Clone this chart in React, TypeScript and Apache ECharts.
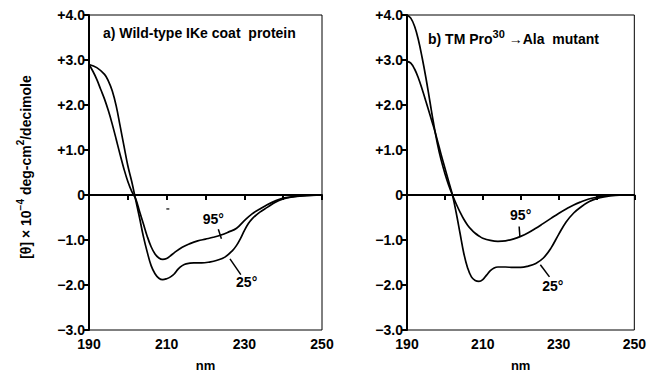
import React, { useEffect, useRef } from "react";
import * as echarts from "echarts";

// ---- data ----
const xTickLabels = [190, 210, 230, 250];

// Panel a) Wild-type IKe coat protein
const wlA25 = [190, 192, 194, 195, 196, 197, 198, 199, 200, 201, 202, 203, 204, 205, 206, 207, 208, 209, 210, 211, 212, 213, 214, 215, 217, 219, 221, 223, 225, 227, 228, 229, 230, 231, 232, 234, 236, 238, 240, 242, 245, 250];
const valA25 = [2.9, 2.83, 2.68, 2.53, 2.31, 1.98, 1.54, 1.09, 0.65, 0.3, -0.1, -0.5, -0.92, -1.27, -1.57, -1.75, -1.85, -1.88, -1.86, -1.82, -1.75, -1.64, -1.57, -1.53, -1.51, -1.51, -1.49, -1.45, -1.38, -1.23, -1.12, -0.97, -0.79, -0.64, -0.53, -0.38, -0.27, -0.16, -0.09, -0.05, -0.02, 0];
const wlA95 = [190, 191, 192, 193, 194, 195, 196, 197, 198, 199, 200, 201, 202, 203, 204, 205, 206, 207, 208, 209, 210, 211, 212, 214, 216, 218, 220, 222, 224, 226, 228, 230, 232, 234, 236, 238, 240, 243, 246, 250];
const valA95 = [2.9, 2.75, 2.57, 2.35, 2.13, 1.87, 1.57, 1.24, 0.9, 0.58, 0.3, 0.08, -0.08, -0.36, -0.64, -0.92, -1.15, -1.31, -1.4, -1.43, -1.41, -1.35, -1.28, -1.16, -1.08, -1.02, -0.98, -0.94, -0.89, -0.82, -0.74, -0.57, -0.42, -0.31, -0.21, -0.13, -0.07, -0.03, -0.01, 0];

// Panel b) TM Pro30 -> Ala mutant
const wlB25 = [190, 191, 192, 193, 194, 195, 196, 197, 198, 199, 200, 201, 202, 203, 204, 205, 206, 207, 208, 209, 210, 211, 212, 213, 214, 216, 218, 220, 222, 224, 226, 228, 230, 232, 234, 236, 238, 240, 242, 245, 250];
const valB25 = [2.97, 2.93, 2.8, 2.6, 2.35, 2.08, 1.8, 1.52, 1.22, 0.9, 0.6, 0.3, 0.0, -0.4, -0.85, -1.3, -1.62, -1.82, -1.9, -1.92, -1.88, -1.78, -1.68, -1.62, -1.6, -1.6, -1.61, -1.61, -1.58, -1.52, -1.4, -1.18, -0.88, -0.6, -0.4, -0.26, -0.15, -0.08, -0.04, -0.01, 0];
const wlB95 = [190, 191, 192, 193, 194, 195, 196, 197, 198, 199, 200, 201, 202, 203, 204, 205, 206, 207, 208, 209, 210, 212, 214, 216, 218, 220, 222, 224, 226, 228, 230, 232, 234, 236, 238, 240, 242, 245, 250];
const valB95 = [4.0, 3.93, 3.75, 3.45, 3.05, 2.6, 2.1, 1.6, 1.15, 0.78, 0.48, 0.22, 0.0, -0.2, -0.38, -0.54, -0.67, -0.77, -0.85, -0.91, -0.96, -1.01, -1.03, -1.02, -0.98, -0.92, -0.84, -0.74, -0.63, -0.52, -0.41, -0.31, -0.22, -0.15, -0.09, -0.05, -0.02, 0, 0];

const pairs = (xs: number[], ys: number[]) => xs.map((x, i) => [x, ys[i]]);

// annotation anchors (data coords)
const annotations = [
  { grid: 0, text: "95°", at: [222, -0.53], line: [[223.3, -0.76], [224.1, -0.97]] },
  { grid: 0, text: "25°", at: [230.6, -1.93], line: [[226.3, -1.42], [229.1, -1.77]] },
  { grid: 1, text: "95°", at: [220, -0.45], line: [[219.6, -0.7], [219.8, -0.93]] },
  { grid: 1, text: "25°", at: [228.5, -2.02], line: [[225.2, -1.55], [227.6, -1.82]] },
];
const strayMark = [210.3, -0.31];

const FONT = "Liberation Sans";

export default function App() {
  const ref = useRef<HTMLDivElement>(null);
  useEffect(() => {
    if (!ref.current) return;
    const chart = echarts.init(ref.current, null, { renderer: "svg" });
    const grids = [
      { left: 89, top: 15, width: 233, height: 316 },
      { left: 407, top: 15, width: 232, height: 316 },
    ];
    const yFmt = (v: number) => (v > 0 ? "+" + v.toFixed(1) : v === 0 ? "0" : "\u2212" + Math.abs(v).toFixed(1));
    const curve = (data: number[][], gi: number, withZero: boolean) => ({
      type: "line",
      xAxisIndex: gi,
      yAxisIndex: gi,
      data,
      smooth: 0.4,
      showSymbol: false,
      symbol: "none",
      lineStyle: { color: "#000", width: 1.7 },
      silent: true,
      z: 3,
      markLine: withZero
        ? {
            silent: true,
            symbol: ["none", "none"],
            label: { show: false },
            lineStyle: { color: "#000", width: 1, type: "solid" },
            data: [{ yAxis: 0 }],
          }
        : undefined,
    });
    chart.setOption({
      animation: false,
      backgroundColor: "#fff",
      textStyle: { fontFamily: FONT, color: "#000" },
      grid: grids.map((g) => ({ ...g, show: true, borderColor: "#000", borderWidth: 1, backgroundColor: "transparent" })),
      xAxis: [0, 1].map((i) => ({
        type: "value",
        gridIndex: i,
        min: 190,
        max: 250,
        interval: 10,
        axisLine: { lineStyle: { color: "#000", width: 2 } },
        axisTick: { length: 5, lineStyle: { color: "#000", width: 2 } },
        splitLine: { show: false },
        axisLabel: {
          formatter: (v: number) => (xTickLabels.includes(v) ? String(v) : ""),
          fontFamily: FONT,
          fontSize: 14,
          fontWeight: "bold",
          color: "#000",
          margin: 7,
        },
        name: "nm",
        nameLocation: "middle",
        nameGap: 29,
        nameTextStyle: { fontFamily: FONT, fontSize: 13, fontWeight: "bold", color: "#000" },
      })),
      yAxis: [0, 1].map((i) => ({
        type: "value",
        gridIndex: i,
        min: -3,
        max: 4,
        interval: 1,
        axisLine: { lineStyle: { color: "#000", width: 2 } },
        axisTick: { length: 5, lineStyle: { color: "#000", width: 2 } },
        splitLine: { show: false },
        axisLabel: {
          formatter: yFmt,
          fontFamily: FONT,
          fontSize: 14,
          fontWeight: "bold",
          color: "#000",
          margin: 4,
        },
      })),
      series: [
        curve(pairs(wlA25, valA25), 0, true),
        curve(pairs(wlA95, valA95), 0, false),
        curve(pairs(wlB25, valB25), 1, true),
        curve(pairs(wlB95, valB95), 1, false),
      ],
    });

    const px = (gi: number, p: number[]) =>
      chart.convertToPixel({ xAxisIndex: gi, yAxisIndex: gi } as any, p) as number[];
    const graphics: any[] = [];
    annotations.forEach((a) => {
      const c = px(a.grid, a.at);
      graphics.push({
        type: "text",
        x: c[0],
        y: c[1],
        style: { text: a.text, fontFamily: FONT, fontSize: 14, fontWeight: "bold", fill: "#000", align: "center", verticalAlign: "middle" },
        z: 10,
      });
      const p1 = px(a.grid, a.line[0]);
      const p2 = px(a.grid, a.line[1]);
      graphics.push({
        type: "line",
        shape: { x1: p1[0], y1: p1[1], x2: p2[0], y2: p2[1] },
        style: { stroke: "#000", lineWidth: 1.5 },
        z: 10,
      });
    });
    const sm = px(0, strayMark);
    graphics.push({
      type: "line",
      shape: { x1: sm[0] - 1.5, y1: sm[1], x2: sm[0] + 1.5, y2: sm[1] },
      style: { stroke: "#000", lineWidth: 1.2 },
    });
    graphics.push({
      type: "text",
      x: grids[0].left + 14,
      y: 33,
      style: { text: "a) Wild-type IKe coat  protein", fontFamily: FONT, fontSize: 14, fontWeight: "bold", fill: "#000", verticalAlign: "middle" },
      z: 10,
    });
    graphics.push({
      type: "text",
      x: grids[1].left + 21,
      y: 37,
      style: {
        text: "{b|b) TM Pro}{s|30}{b| \u2192Ala  mutant}",
        verticalAlign: "middle",
        rich: {
          b: { fontFamily: FONT, fontSize: 14, fontWeight: "bold", color: "#000", lineHeight: 17, verticalAlign: "bottom" },
          s: { fontFamily: FONT, fontSize: 11, fontWeight: "bold", color: "#000", lineHeight: 17, verticalAlign: "top" },
        },
      },
      z: 10,
    });
    graphics.push({
      type: "text",
      x: 24,
      y: 167,
      rotation: Math.PI / 2,
      style: {
        text: "{b|[\u03b8] \u00d7 10}{s|\u22124}{b| deg-cm}{s|2}{b|/decimole}",
        align: "center",
        verticalAlign: "middle",
        rich: {
          b: { fontFamily: FONT, fontSize: 14, fontWeight: "bold", color: "#000", lineHeight: 17, verticalAlign: "bottom" },
          s: { fontFamily: FONT, fontSize: 10, fontWeight: "bold", color: "#000", lineHeight: 17, verticalAlign: "top" },
        },
      },
      z: 10,
    });
    chart.setOption({ graphic: graphics });
    return () => chart.dispose();
  }, []);
  return (
    <div
      ref={ref}
      style={{ position: "absolute", left: 0, top: 0, width: 649, height: 377, background: "#fff" }}
    />
  );
}
